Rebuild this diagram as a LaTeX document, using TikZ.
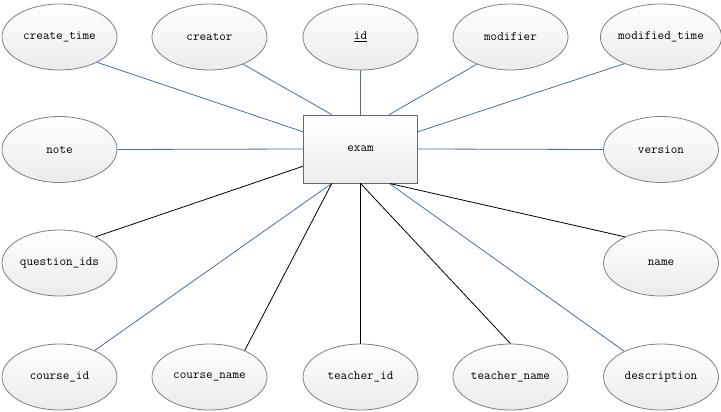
\documentclass[tikz,border=0pt]{standalone}
\usepackage{fontspec}
\usetikzlibrary{shapes.geometric,calc}
\definecolor{linkblue}{RGB}{74,110,160}
\definecolor{edgegray}{RGB}{128,128,128}
\tikzset{
  attr/.style={ellipse,draw=edgegray,line width=0.8pt,top color=white,bottom color=black!8,
    minimum width=115pt,minimum height=66pt,inner sep=0pt,font=\ttfamily\fontsize{12.8}{14}\selectfont},
  entity/.style={rectangle,draw=black!60,line width=0.8pt,top color=white,bottom color=black!7,
    minimum width=114pt,minimum height=68pt,inner sep=0pt,font=\ttfamily\fontsize{12.8}{14}\selectfont},
  bl/.style={draw=linkblue,line width=0.8pt},
  bk/.style={draw=black,line width=0.8pt},
}
\begin{document}
\begin{tikzpicture}[x=1pt,y=-1pt]
\useasboundingbox (0,0) rectangle (721,412);
\node[entity] (exam) at (360.5,149) {exam};
% top row
\node[attr] (ct) at (59.5,37) {create\_time};
\node[attr] (cr) at (209.5,37) {creator};
\node[attr] (id) at (360.5,37) {\underline{id}};
\node[attr] (mo) at (510.5,37) {modifier};
\node[attr] (mt) at (661,37) {modified\_time};
% middle rows
\node[attr] (no) at (59.5,149.5) {note};
\node[attr] (ve) at (661,149.5) {version};
\node[attr] (qi) at (59.5,263) {question\_ids};
\node[attr] (na) at (661,263) {name};
% bottom row
\node[attr] (ci) at (59.5,377) {course\_id};
\node[attr] (cn) at (209.5,377) {course\_name};
\node[attr] (ti) at (360.5,377) {teacher\_id};
\node[attr] (tn) at (510.5,377) {teacher\_name};
\node[attr] (de) at (661,377) {description};
% connection points on exam
\coordinate (t1) at ($(exam.north west)!0.25!(exam.north east)$);
\coordinate (t3) at ($(exam.north west)!0.75!(exam.north east)$);
\coordinate (b1) at ($(exam.south west)!0.25!(exam.south east)$);
\coordinate (b3) at ($(exam.south west)!0.75!(exam.south east)$);
\coordinate (l1) at ($(exam.north west)!0.25!(exam.south west)$);
\coordinate (l3) at ($(exam.north west)!0.75!(exam.south west)$);
\coordinate (r1) at ($(exam.north east)!0.25!(exam.south east)$);
% connectors
\draw[bl] (ct.-34) -- (l1);
\draw[bl] (cr.-39) -- (t1);
\draw[bl] (id.south) -- (exam.north);
\draw[bl] (mo.-141) -- (t3);
\draw[bl] (mt.-144) -- (r1);
\draw[bl] (no.east) -- (exam.west);
\draw[bl] (ve.west) -- (exam.east);
\draw[bk] (qi.36) -- (l3);
\draw[bk] (na.144) -- (b3);
\draw[bl] (ci.37) -- (b1);
\draw[bk] (cn.37) -- (b1);
\draw[bk] (ti.north) -- (exam.south);
\draw[bk] (tn.north) -- (exam.south);
\draw[bl] (de.145) -- (b3);
\end{tikzpicture}
\end{document}
